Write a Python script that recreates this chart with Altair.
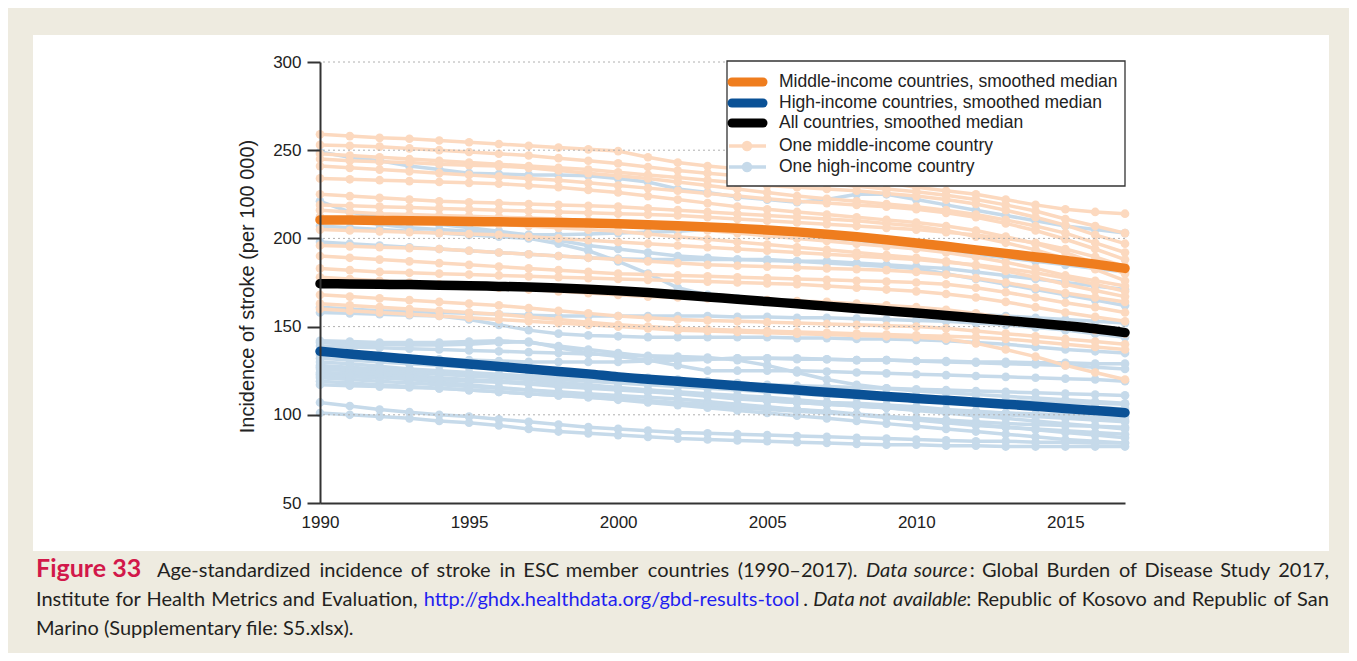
import altair as alt
import pandas as pd

years = list(range(1990, 2018))

middle_income = [
    [259,258,257,256.5,255.5,254.5,253.5,252.5,251.5,250.5,249.5,246,243,241,239.5,238,236.5,235,233.5,231.5,229,227,225,222,219,216.5,215,214],
    [253,252.5,252,251,250,249,248,247,245.5,244,242.5,240.5,238.5,237,235.5,234,232.5,231,229.5,228,226.5,224.5,222,219,215.5,211,207,203],
    [248,247,246,245,244,243,242,241,240,239,237.5,236,234.5,233,231.5,230,229,228,227,225.5,224,222,219.5,216,212,207.5,202,197],
    [245,244,243.5,243,242,241.5,241,240,238.5,237,235.5,234,232,230,228,226,224,222.5,221,219.5,218,216,213.5,210.5,207,203,197.5,192],
    [241,240,239,238,237,236,235,234,233,231.5,230,228.5,227,225.5,224,222.5,221,220,219,218,216.5,214.5,212,208.5,204.5,199.5,194,188],
    [234,233.5,233,232.5,232,231.5,231,230,229,227.5,226,224,222,220,218,216.5,215,213.5,212,210.5,209,207,204.5,201,197,192,186,180],
    [225,224,223,222,221,220.5,220,219.5,219,218.5,218,217,216,215,214,213,212,211,210,208.5,207,204.5,201,197.5,193.5,188.5,182.5,176],
    [219,218.5,218,217.5,217,216.5,216,215.5,215,214.5,214,213.5,213,212,211,210,209,208,207,206,205,203.5,202,200,197.5,194,189.5,184],
    [216,215,214,213.5,213,212.5,212,211.5,211,210,209,207.5,206,204.5,203,201.5,200,198.5,197,195.5,194,192,189.5,186.5,183,179,176,173],
    [212,211.5,211,210.5,210,209,208,207,206,205,204,202.5,201,199.5,198,196.5,195,193.5,192,190.5,189,187,184.5,181.5,178,174,170.5,167],
    [205,204.5,204,203.5,203,202.5,202,201,200,199,198,197,196,195,194,193,192,191,190,189,188,186.5,185,183,180.5,177.5,174,170],
    [196,195.5,195,194.5,194,193,192,191,190,189,188,187,186,185,184.5,184,183.5,183,182.5,182,181,179.5,177.5,175,172,169,166.5,164],
    [190,189,188,187,186,185,184,183,182,181,180,179.5,179,178.5,178,177.5,177,176.5,176,175.5,175,174,172,169.5,166.5,163.5,161,158],
    [183,182,181,180.5,180,179.5,179,178.5,178,177.5,177,176.5,176,175.5,175,174.5,174,173,172,171,170,168.5,166.5,164,161,158,155.5,153],
    [178,177,176,175,174,173,172,171,170,169,168,167,166.5,166,165.5,165,164.5,164,163,162,161,159.5,157.5,155,152.5,150,148,146],
    [168,167,166,165,164,163,162,160.5,159,157.5,156,155,154,153.5,153,152.5,152,151.5,151,150.5,150,149,147.5,146,144.5,143,141.5,140],
    [163,162,161,160,159,158,157,155.5,154,152.5,151,150,149,148.5,148,147.5,147,146.5,146,145.5,145,144.5,144,143,141.5,140,138.5,137],
    [160,159,158,157,156,155,154,153,152,151,150,149,148,147.5,147,146.5,146,145.5,145,144.5,144,143,140.5,137,133,128,124,120],
]

high_income = [
    [249,246,244,241,239,237,236.5,236,236,235.5,234,232,228,226,223.5,222,220.5,222,225,225,222,219,216,213,210,207,205,203],
    [221,215,212,210,208,206,204,202,199,196,194,192,190,189,188,188,187,187,186,185,184,183,181,179,177,175,173,171],
    [212,210,208,206,205,204,203,202,202,202.5,203,203.5,204,205,204,203,202,200.5,199,197,195,193,191,189,187,185,183,181],
    [207,206,205,204,203,202,201,200,197,193,187,180,172,168,166,164.5,163,162,161,160,159,158,157,156,155,154,153,152],
    [198,197,196,195,194,193,192,191,190,189,188.5,188,188,188,188,187.5,187,186,185,184,183,180,177,174,171,168,165,162],
    [161,160,159,158.5,158,157.5,157,156.5,156,156,156,156,156,156,155.5,155.5,155,155,154.5,154,153.5,153,152,151,149.5,148,146,144],
    [158,157.5,157,156.5,156,154,151,148,146,145,144.5,144,144,144,144,144,143.5,143.5,143,143,142.5,142,141,140,138.5,137,136,135],
    [142,141.5,141,141,141,141.5,142,141,139,137,135,133,131,131.5,132,132,132,131.5,131,131,130.5,130,129.5,129,128.5,128,127,126],
    [141,140,140,139.5,139.5,140,141,141.5,138,135,133,131,128,125,125,125,125,124.5,124,123.5,123,122.5,122,121.5,121,120.5,120,119],
    [139,138.5,138,137.5,137,136.5,136,135.5,135,134.5,134,133.5,133,132.5,131,128,124,120,117,115,113.5,112.5,111.5,110.5,109.5,108.5,107.5,106.5],
    [134,133,132.5,132,131.5,131,130.5,130,130,130,130,130.5,131,131.5,132,132,131.5,131.5,131,131,130.5,130.5,130,130,129.5,129.5,129,129],
    [132,131,130,129,128,127,126,125,124,123,122,121,120,119,118,117,116.5,116,115.5,115,114.5,114,113.5,113,112.5,112,111.5,111],
    [130,129,127.5,126,125,124,123,122,121,120,119,118,117,116,115,114,113,112,111,110,109.5,109,108.5,108,107.5,107,106.5,106],
    [128,127,126,125,124,123,122,121,120,119,118,117,116,115,114,113,112,111,110,109,108,107,106,105.5,105,104.5,104,103.5],
    [127,126,125,124,123,122,121,120,118.5,117,115.5,114,112.5,111,109.5,108,107,106,105,104,103,102,101.5,101,100.5,100,99.5,99],
    [126,125,124,122.5,121,120,119,118,117,116,115,113.5,112,110.5,109,108,107,106,105,104,103,102,101,100,99,98,97,96],
    [124,123.5,122.5,121.5,120,119,118.5,117.5,116,115,114,113,112,111.5,110.5,109,108,107,106.5,105.5,104.5,103,102,101,100,99,98,97],
    [123,122,121,120,118.5,117,115.5,114,112.5,111,109.5,108,106.5,105,104,103,102,101,100,99,98,97,96,95,94.5,94,93.5,93],
    [122,121.5,121,120.5,120,119.5,119,118,117,116,115,114,113,112,111,110,108.5,107,105.5,104,102.5,101,99.5,98,96.5,95,93.5,92],
    [121,120,119,118,117,116,115,114,113,112,111,110,109,107.5,106,104.5,103,101.5,100,98.5,97,95.5,94,93,92,91,90,89],
    [119,118,117,116,115,114,113,112,111,110,109,108,107,106,105,104,103,102,100.5,99,97.5,96,94.5,93,91.5,90,88.5,87],
    [117,116.5,116,115.5,115,114,113,112,111,110,108.5,107,105.5,104,102.5,101,99.5,98,96.5,95,93.5,92,90.5,89,87.5,86,85,84],
    [107,105,103,101.5,100,99,97.5,96,94.5,93,92,91,90,89.5,89,88.5,88,87.5,87,86.5,86,85.5,85,85,84.5,84.5,84,84],
    [101,100,99,98,96.5,95.5,94,92,90.5,89.5,88.5,87.5,86.5,86,85.5,85,84.5,84,83.5,83,83,82.5,82.5,82,82,82,82,82],
]

median_middle = [210.5,210.4,210.2,210.0,209.8,209.6,209.4,209.2,209.0,208.7,208.3,207.8,207.2,206.5,205.7,204.8,203.7,202.4,200.9,199.2,197.4,195.5,193.5,191.5,189.5,187.5,185.4,183.0]
median_high = [136,134.5,133,131.6,130.2,128.8,127.4,126,124.6,123.2,121.5,120.2,119,117.8,116.5,115.2,114,112.8,111.6,110.4,109.3,108.2,107.1,106,104.9,103.6,102.4,101.2]
median_all = [174.3,174.2,174.0,173.8,173.5,173.2,172.8,172.4,171.9,171.2,170.3,169.3,168.1,166.8,165.5,164.2,162.9,161.6,160.3,159.0,157.7,156.3,154.9,153.5,152.0,150.5,148.8,146.6]

x_ticks = [1990, 1995, 2000, 2005, 2010, 2015]
y_ticks = [50, 100, 150, 200, 250, 300]
grid_values = [100, 150, 200, 250, 300]

legend_labels = [
    "Middle-income countries, smoothed median",
    "High-income countries, smoothed median",
    "All countries, smoothed median",
    "One middle-income country",
    "One high-income country",
]

# caption words: (text, style, attach-to-previous-word)
caption_label = "Figure 33"
caption_line1 = [("Age-standardized", "n", 0), ("incidence", "n", 0), ("of", "n", 0), ("stroke", "n", 0),
                 ("in", "n", 0), ("ESC", "n", 0), ("member", "n", 0), ("countries", "n", 0),
                 ("(1990\u20132017).", "n", 0), ("Data", "i", 0), ("source", "i", 0), (":", "n", 1),
                 ("Global", "n", 0), ("Burden", "n", 0), ("of", "n", 0), ("Disease", "n", 0),
                 ("Study", "n", 0), ("2017,", "n", 0)]
caption_line2 = [("Institute", "n", 0), ("for", "n", 0), ("Health", "n", 0), ("Metrics", "n", 0),
                 ("and", "n", 0), ("Evaluation,", "n", 0), ("http://ghdx.healthdata.org/gbd-results-tool", "link", 0),
                 (".", "n", 1), ("Data", "i", 0), ("not", "i", 0), ("available", "i", 0), (":", "n", 1),
                 ("Republic", "n", 0), ("of", "n", 0), ("Kosovo", "n", 0), ("and", "n", 0),
                 ("Republic", "n", 0), ("of", "n", 0), ("San", "n", 0)]
caption_line3 = "Marino (Supplementary file: S5.xlsx)."

# ---- colours ----
PEACH = "#fcd9bf"
LBLUE = "#c6daea"
ORANGE = "#ef7d1e"
DBLUE = "#0a5196"
BLACK = "#000000"
BEIGE = "#eeebe0"
AX = "#333333"
TXT = "#222222"
CAP = "#231f20"
LINK = "#1f1ff0"
RED = "#d2184a"

# ---- data tables ----
rows = []
n = max(len(middle_income), len(high_income))
for i in range(n):
    for grp, series in (("high", high_income), ("middle", middle_income)):
        if i < len(series):
            for yr, v in zip(years, series[i]):
                rows.append({"country": f"{grp}{i:02d}", "group": grp, "year": yr, "value": v})
countries = pd.DataFrame(rows)

med_rows = []
for name, series in (("middle", median_middle), ("high", median_high), ("all", median_all)):
    for yr, v in zip(years, series):
        med_rows.append({"series": name, "year": yr, "value": v})
medians = pd.DataFrame(med_rows)

grid_df = pd.DataFrame({"value": grid_values})
one = pd.DataFrame({"k": [0]})

xs = alt.Scale(domain=[1990, 2017], nice=False, zero=False)
ys = alt.Scale(domain=[50, 300], nice=False, zero=False)

x_axis = alt.Axis(values=x_ticks, format="d", title=None, grid=False, ticks=False,
                  domainColor=AX, domainWidth=2, labelFont="Liberation Sans", labelFontSize=17,
                  labelColor=TXT, labelPadding=11, labelFlush=False, zindex=1)
y_axis = alt.Axis(values=y_ticks, title="Incidence of stroke (per 100 000)", grid=False,
                  tickSize=13, tickWidth=2, tickColor=AX, domainColor=AX, domainWidth=2,
                  labelFont="Liberation Sans", labelFontSize=17, labelColor=TXT, labelPadding=6,
                  titleFont="Liberation Sans", titleFontSize=20, titleFontWeight="normal",
                  titleColor=TXT, titleX=-73, titleY=224, titleAngle=270, titleAlign="center",
                  titleBaseline="middle", zindex=1)

X = alt.X("year:Q", scale=xs, axis=x_axis)
Y = alt.Y("value:Q", scale=ys, axis=y_axis)

layers = []

# beige frame around the white panel (decoration)
for (x1, x2, y1, y2) in [(-312, 1029, -54, -27), (-312, -287, -27, 489), (1009, 1029, -27, 489), (-312, 1029, 489, 591)]:
    layers.append(alt.Chart(one).mark_rect(color=BEIGE).encode(
        x=alt.value(x1), x2=alt.value(x2), y=alt.value(y1), y2=alt.value(y2)))

# country lines and points
grp_color = alt.Color("group:N", scale=alt.Scale(domain=["middle", "high"], range=[PEACH, LBLUE]), legend=None)
layers.append(alt.Chart(countries).mark_line(strokeWidth=3.5).encode(
    x=X, y=Y, color=grp_color, detail="country:N", order="year:Q"))
layers.append(alt.Chart(countries).mark_circle(size=75, opacity=1).encode(
    x=X, y=Y, color=grp_color))

# dotted grid lines
layers.append(alt.Chart(grid_df).mark_rule(color="#b0b0b0", strokeWidth=1, strokeDash=[2, 3]).encode(y=Y))

# smoothed medians
med_color = alt.Color("series:N", scale=alt.Scale(domain=["middle", "high", "all"], range=[ORANGE, DBLUE, BLACK]), legend=None)
layers.append(alt.Chart(medians).mark_line(strokeWidth=9.5, strokeCap="round", interpolate="monotone").encode(
    x=X, y=Y, color=med_color))

# legend box
layers.append(alt.Chart(one).mark_rect(fill="white", stroke=AX, strokeWidth=1.3).encode(
    x=alt.value(407), x2=alt.value(805), y=alt.value(-1), y2=alt.value(124)))
row_y = [20, 41, 61, 84, 105]
sym_colors = [ORANGE, DBLUE, BLACK, PEACH, LBLUE]
for i, (lab, col, yy) in enumerate(zip(legend_labels, sym_colors, row_y)):
    if i < 3:
        layers.append(alt.Chart(one).mark_rule(color=col, strokeWidth=9, strokeCap="round").encode(
            x=alt.value(412), x2=alt.value(443), y=alt.value(yy)))
    else:
        layers.append(alt.Chart(one).mark_rule(color=col, strokeWidth=3.5).encode(
            x=alt.value(409), x2=alt.value(446), y=alt.value(yy)))
        layers.append(alt.Chart(one).mark_circle(color=col, size=110, opacity=1).encode(
            x=alt.value(427), y=alt.value(yy)))
    layers.append(alt.Chart(one).mark_text(align="left", baseline="middle", font="Liberation Sans",
                                           fontSize=17.5, color=TXT).encode(
        x=alt.value(459), y=alt.value(yy), text=alt.value(lab)))

# ---- caption, justified word by word ----
FONT = "Lato"
FS = 20
CW = {
    'a': .51, 'b': .57, 'c': .47, 'd': .57, 'e': .53, 'f': .33, 'g': .51, 'h': .57, 'i': .24, 'j': .24,
    'k': .51, 'l': .24, 'm': .86, 'n': .57, 'o': .57, 'p': .57, 'q': .57, 'r': .37, 's': .43, 't': .36,
    'u': .57, 'v': .50, 'w': .76, 'x': .50, 'y': .50, 'z': .45,
    'A': .68, 'B': .63, 'C': .67, 'D': .73, 'E': .55, 'F': .53, 'G': .71, 'H': .75, 'I': .28, 'K': .65,
    'M': .89, 'R': .61, 'S': .52, 'U': .72,
    '(': .30, ')': .30, '.': .22, ',': .22, ':': .24, '-': .34, '\u2013': .58, '/': .37, ' ': .19,
}
STYLE_FACTOR = {"n": 1.0, "i": 0.95, "link": 1.0}


def text_width(s, style):
    return sum(CW.get(c, .58) for c in s) * FS * STYLE_FACTOR[style]


def justify(words, x0, x1):
    widths = [text_width(t, st) for t, st, _ in words]
    ngaps = sum(1 for _, _, a in words[1:] if not a)
    gap = (x1 - x0 - sum(widths)) / ngaps
    out, x = [], x0
    for k, ((t, st, a), w) in enumerate(zip(words, widths)):
        if k > 0 and not a:
            x += gap
        out.append((t, st, x))
        x += w
    return out


def cap_text(t, xx, yy, style, size=FS, weight="normal", color=CAP):
    return alt.Chart(one).mark_text(
        align="left", baseline="alphabetic", font=FONT, fontSize=size, fontWeight=weight,
        fontStyle="italic" if style == "i" else "normal",
        color=LINK if style == "link" else color).encode(
        x=alt.value(xx), y=alt.value(yy), text=alt.value(t))


layers.append(cap_text(caption_label, -284, 515, "n", size=25, weight="bold", color=RED))
for t, st, xx in justify(caption_line1, -163, 1009):
    layers.append(cap_text(t, xx, 515, st))
for t, st, xx in justify(caption_line2, -284, 1009):
    layers.append(cap_text(t, xx, 544, st))
layers.append(cap_text(caption_line3, -284, 573, "n"))

chart = alt.layer(*layers).resolve_scale(color="independent").properties(
    width=805, height=441,
    padding={"left": 312, "top": 54, "right": 224, "bottom": 150},
    autosize=alt.AutoSizeParams(type="none"),
    background="white",
).configure_view(strokeWidth=0)

chart.save("out.html", embed_options={"renderer": "svg", "actions": False})
